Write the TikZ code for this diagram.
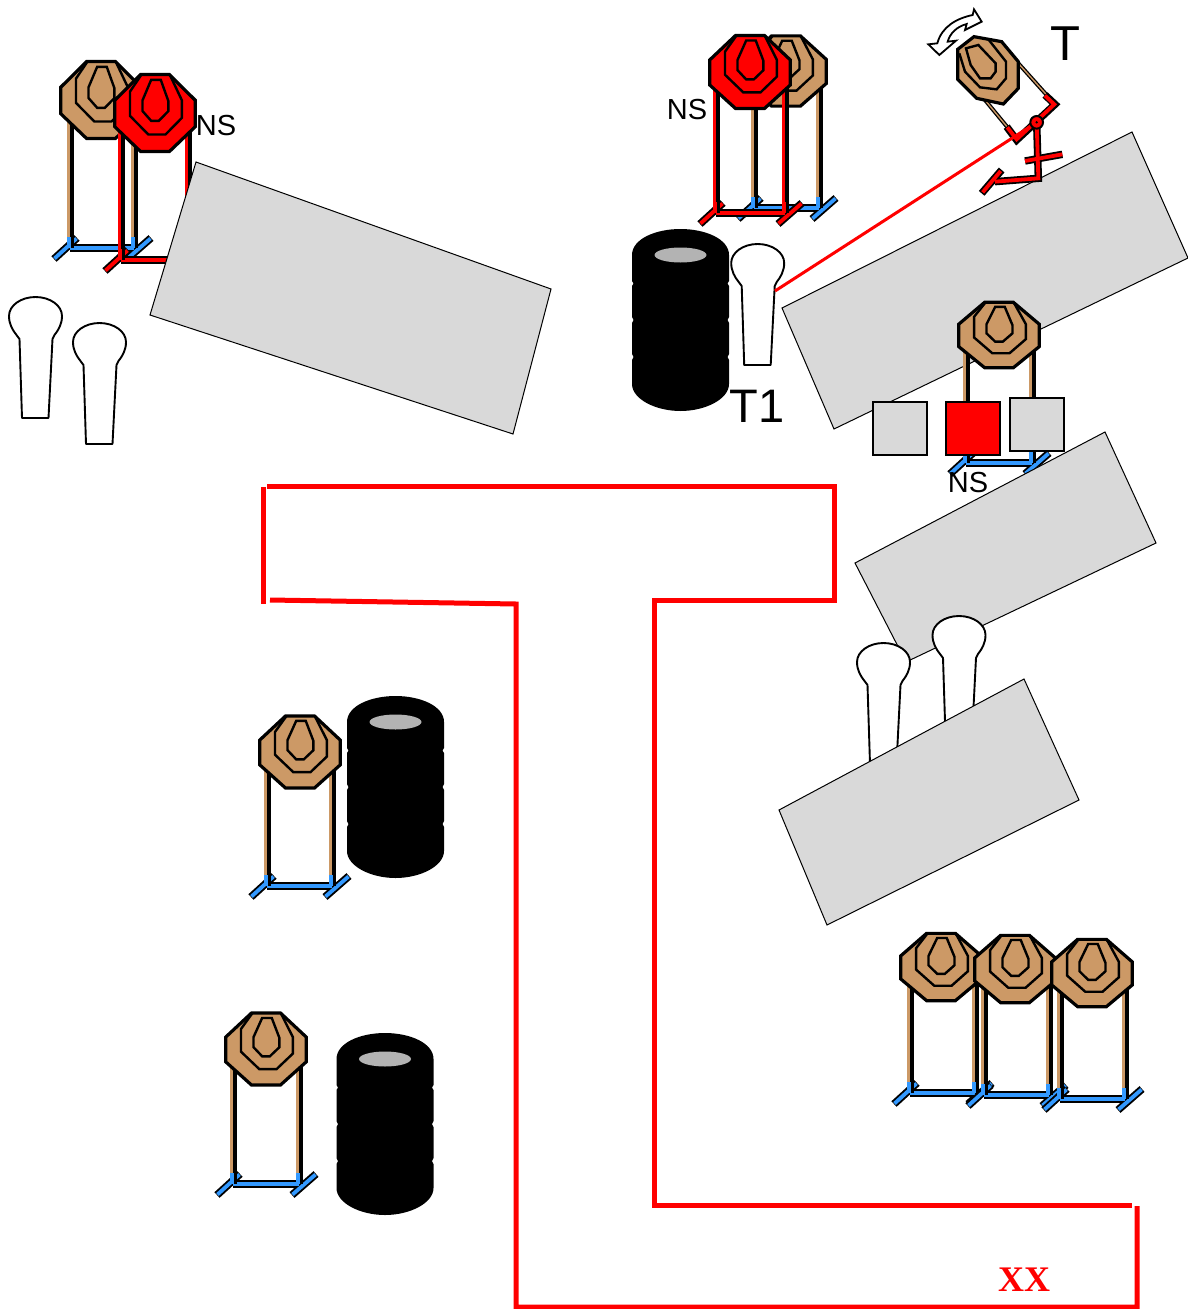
\documentclass[tikz,border=0pt]{standalone}
\usepackage{fontspec}
\setmainfont{Liberation Sans}
\newfontfamily\serifxx{Liberation Serif}
\definecolor{tan}{HTML}{CC9966}
\definecolor{bluebase}{HTML}{3399FF}
\definecolor{panel}{HTML}{D9D9D9}
\definecolor{hole}{HTML}{B3B3B3}
\tikzset{
  panelbox/.style={fill=panel,draw=black,line width=1pt},
  wall/.style={draw=red,line width=5pt,line join=miter},
  headline/.style={draw=black,line width=3.2pt,line join=miter},
  ringline/.style={draw=black,line width=2.4pt,line join=miter},
  sil/.style={fill=white,draw=black,line width=1.9pt,line join=round},
  tile/.style={draw=black,line width=2.6pt},
  label/.style={inner sep=0pt,text=black},
}
% cx cy H legL legR baseY head leg base
\newcommand{\targ}[9]{%
  \draw[black,line width=7.6pt] ({#4-16},{#6+11}) -- ({#4+7},{#6-10});
  \draw[black,line width=7.6pt] ({#5-7},{#6+11}) -- ({#5+17},{#6-10});
  \draw[black,line width=7.6pt] (#4,#6) -- (#5,#6);
  \draw[#9,line width=4pt] (#4,#6) -- (#5,#6);
  \draw[#9,line width=3.8pt] ({#4-15.5},{#6+10.5}) -- ({#4+6.5},{#6-9.5});
  \draw[#9,line width=3.8pt] ({#5-6.5},{#6+10.5}) -- ({#5+16.5},{#6-9.5});
  \draw[black,line width=7pt] (#4,#2) -- (#4,#6);
  \draw[black,line width=7pt] (#5,#2) -- (#5,#6);
  \draw[#8,line width=3.6pt] ({#4-1.4},#2) -- ({#4-1.4},{#6-11});
  \draw[#8,line width=3.6pt] ({#5-1.4},#2) -- ({#5-1.4},{#6-11});
  \draw[#9,line width=4pt] ({#4-1},{#6-11}) -- ({#4-1},#6);
  \draw[#9,line width=4pt] ({#5-1},{#6-11}) -- ({#5-1},#6);
  \begin{scope}[shift={(#1,#2)},xscale=0.96,yscale=#3/81]
    \draw[headline,fill=#7] (-15,-39.5) -- (15,-39.5) -- (42,-13) -- (42,14) -- (15,39.5) -- (-15,39.5) -- (-42,14) -- (-42,-13) -- cycle;
    \draw[ringline] (-14,-39.5) -- (-26,-22) -- (-26,3) -- (-7,22) -- (11,22) -- (28,5) -- (28,-13) -- (16,-38);
    \draw[ringline] (-4,-34) -- (6,-34) -- (14,-12) -- (14,-2) -- (4,8) -- (-4,8) -- (-13,-2) -- (-13,-13) -- cycle;
  \end{scope}}
\newcommand{\tires}[2]{%
  \begin{scope}[shift={(#1,#2)}]
    \fill[black] (-48.5,26) .. controls (-48.5,10) and (-25,0) .. (0,0) .. controls (25,0) and (48.5,10) .. (48.5,26)
      -- (48.5,52) -- (47,54.5) -- (48.5,57) -- (48.5,88) -- (47,91) -- (48.5,94) -- (48.5,125) -- (47,128) -- (48.5,131)
      -- (48.5,155) .. controls (48.5,170) and (25,182) .. (0,182) .. controls (-25,182) and (-48.5,170) .. (-48.5,155)
      -- (-48.5,131) -- (-47,128) -- (-48.5,125) -- (-48.5,94) -- (-47,91) -- (-48.5,88) -- (-48.5,57) -- (-47,54.5) -- (-48.5,52) -- cycle;
    \fill[hole] (0,26) ellipse [x radius=26pt,y radius=7.5pt];
  \end{scope}}
\newcommand{\silh}[2]{%
  \draw[sil,shift={(#1,#2)}] (-19,19) .. controls (-23,14) and (-26.5,8) .. (-26.5,0)
    .. controls (-26.5,-10.5) and (-14.6,-19) .. (0,-19) .. controls (14.6,-19) and (26.5,-10.5) .. (26.5,0)
    .. controls (26.5,8) and (23,14) .. (19,19) -- (17,23) -- (13,102) -- (-13.5,102) -- (-16,23) -- cycle;}
\begin{document}
\begin{tikzpicture}[x=1pt,y=-1pt]
\useasboundingbox (0,0) rectangle (1188,1309);
% top-left group
\targ{101}{100}{79}{70}{134}{248}{tan}{tan}{bluebase}
\targ{155}{113}{79}{121}{188}{260}{red}{red}{red}
\draw[panelbox] (196,162) -- (551,289) -- (513,434) -- (150,315) -- cycle;
\silh{35.5}{316}
\silh{99.5}{342}
\node[label,font=\fontsize{29}{29}\selectfont] (ns1) at (216,126) {NS};
% top-middle group
\targ{786}{71}{72}{754}{819}{208}{tan}{tan}{bluebase}
\targ{750}{72}{75}{716}{785}{213}{red}{red}{red}
\node[label,font=\fontsize{29}{29}\selectfont] (ns2) at (687,110) {NS};
\tires{680.5}{229}
\silh{757.7}{263}
\node[label,font=\fontsize{47}{47}\selectfont] (t1) at (757,406) {T1};
% swinger
\draw[panelbox] (1132,132) -- (1188,258) -- (834,429) -- (782,308) -- cycle;
\begin{scope}[shift={(900,0)},scale=1/3]
  \coordinate (pivot) at (410,367);
  \coordinate (silhit) at (-375,873);
  \draw[black,line width=4pt] (255,300) -- (325,385);
  \draw[black,line width=4pt] (355,190) -- (440,285);
  \draw[tan,line width=1.4pt] (255,300) -- (325,385);
  \draw[tan,line width=1.4pt] (355,190) -- (440,285);
  \draw[black,line width=7.4pt,line join=miter] (320,380) -- (350,420) -- (465,313) -- (435,285);
  \draw[red,line width=3.8pt,line join=miter] (322,382) -- (350,418) -- (463,313) -- (435,287);
  \draw[black,line width=7.4pt] (410,367) -- (415,535) -- (285,545);
  \draw[black,line width=7.4pt] (375,483) -- (487,463);
  \draw[black,line width=7.4pt] (245,580) -- (305,510);
  \draw[red,line width=3.8pt] (410,367) -- (415,535) -- (285,545);
  \draw[red,line width=3.8pt] (375,483) -- (487,463);
  \draw[red,line width=3.8pt] (248,577) -- (302,513);
  \draw[red,line width=3pt] (silhit) -- (pivot);
  \fill[red,draw=black,line width=2pt] (pivot) circle [radius=19pt];
  \fill[black] (pivot) circle [radius=4pt];
  \draw[headline,fill=tan] (222,110) -- (305,125) -- (355,185) -- (355,265) -- (310,312) -- (230,295) -- (173,238) -- (173,148) -- cycle;
  \draw[ringline] (178,160) -- (195,215) -- (240,262) -- (290,268) -- (318,235) -- (318,185) -- (265,118);
  \draw[ringline] (198,145) -- (212,195) -- (240,235) -- (272,235) -- (287,215) -- (287,190) -- (235,135) -- cycle;
  \draw[fill=white,draw=black,line width=1.8pt,line join=miter] (85,133) -- (112,130) .. controls (125,80) and (170,55) .. (218,45) -- (222,28) -- (245,65) -- (195,90) -- (200,72) .. controls (170,80) and (150,100) .. (143,125) -- (168,122) -- (118,165) -- cycle;
\end{scope}
\node[label,font=\fontsize{49}{49}\selectfont] (tlabel) at (1065,44) {T};
% centre panels
\targ{999}{335}{67}{966}{1032}{463}{tan}{tan}{bluebase}
\draw[tile,fill=panel] (873,402) rectangle (927,455);
\draw[tile,fill=red] (946,402) rectangle (1000,455);
\draw[tile,fill=panel] (1010,398) rectangle (1064,451);
\draw[panelbox] (1105,432) -- (1156,543) -- (906,662) -- (855,563) -- cycle;
\node[label,font=\fontsize{29}{29}\selectfont] (ns3) at (968,483) {NS};
\silh{883.5}{662}
\silh{959}{635}
\draw[panelbox] (1024,679) -- (1079,800) -- (827,925) -- (779,810) -- cycle;
% lower left
\targ{300}{752}{74}{267}{332}{886}{tan}{tan}{bluebase}
\tires{395.5}{696}
\targ{266}{1049}{74}{233}{299}{1184}{tan}{tan}{bluebase}
\tires{385}{1033}
% lower right
\targ{941}{967}{69}{910}{975}{1093}{tan}{tan}{bluebase}
\targ{1015}{969}{69}{984}{1049}{1095}{tan}{tan}{bluebase}
\targ{1092}{973}{69}{1060}{1125}{1099}{tan}{tan}{bluebase}
% walls
\coordinate (w1) at (263,487); \coordinate (w2) at (263,604);
\draw[wall] (w1) -- (w2);
\coordinate (w3) at (267,486); \coordinate (w4) at (834,486); \coordinate (w5) at (834,600); \coordinate (w6) at (654,600); \coordinate (w7) at (654,1205); \coordinate (w8) at (1132,1205);
\draw[wall] (w3) -- (w4) -- (w5) -- (w6) -- (w7) -- (w8);
\coordinate (w9) at (1137,1206); \coordinate (w10) at (1137,1307); \coordinate (w11) at (516,1307); \coordinate (w12) at (516,604); \coordinate (w13) at (270,600);
\draw[wall] (w9) -- (w10) -- (w11) -- (w12) -- (w13);
\node[inner sep=0pt,text=red,font=\serifxx\bfseries\fontsize{36}{36}\selectfont] (xx) at (1024,1280) {XX};
\end{tikzpicture}
\end{document}
